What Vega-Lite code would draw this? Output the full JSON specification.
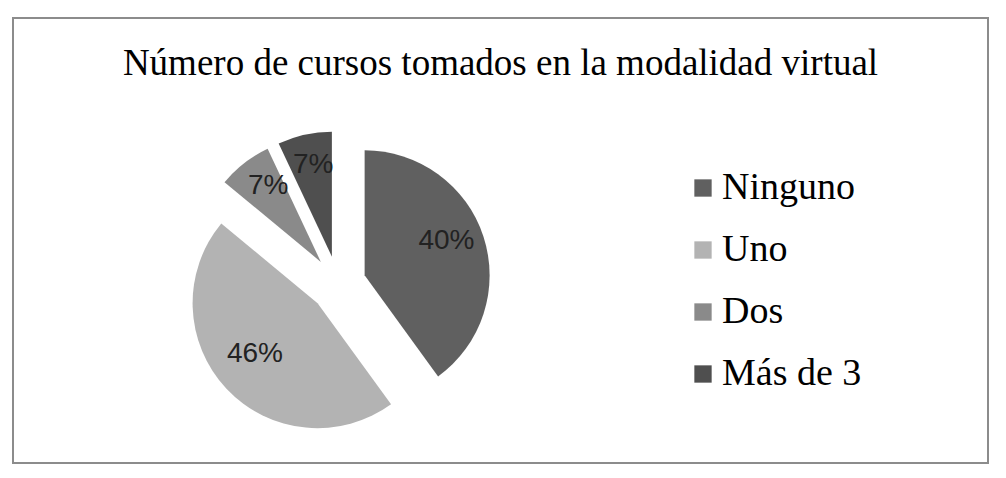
{
  "$schema": "https://vega.github.io/schema/vega-lite/v6.json",
  "width": 1006,
  "height": 478,
  "autosize": {"type": "fit", "contains": "padding"},
  "padding": {"left": 13, "top": 18, "right": 18, "bottom": 15},
  "background": "white",
  "config": {"view": {"stroke": "#8c8c8c", "strokeWidth": 2}},
  "title": {
    "text": "Número de cursos tomados en la modalidad virtual",
    "font": "Liberation Serif",
    "fontSize": 37,
    "fontWeight": "normal",
    "color": "#000000",
    "anchor": "middle",
    "baseline": "alphabetic",
    "offset": -94
  },
  "data": {
    "values": [
      {"categoria": "Ninguno", "porcentaje": 40},
      {"categoria": "Uno", "porcentaje": 46},
      {"categoria": "Dos", "porcentaje": 7},
      {"categoria": "Más de 3", "porcentaje": 7}
    ]
  },
  "transform": [
    {"window": [{"op": "sum", "field": "porcentaje", "as": "fin"}], "frame": [null, 0]},
    {"calculate": "datum.fin - datum.porcentaje", "as": "inicio"},
    {"calculate": "PI * (datum.inicio + datum.fin) / 100", "as": "medio"},
    {"calculate": "28 * sin(datum.medio)", "as": "dx"},
    {"calculate": "28 * cos(datum.medio)", "as": "dy"},
    {"calculate": "datum.dx + 86 * sin(datum.medio)", "as": "lx"},
    {"calculate": "datum.dy + 86 * cos(datum.medio)", "as": "ly"},
    {"calculate": "datum.porcentaje + '%'", "as": "etiqueta"}
  ],
  "layer": [
    {
      "mark": {"type": "arc", "outerRadius": 125, "stroke": null},
      "encoding": {
        "theta": {"field": "inicio", "type": "quantitative", "stack": null, "scale": {"domain": [0, 100]}},
        "theta2": {"field": "fin"},
        "x": {"field": "dx", "type": "quantitative", "scale": {"domain": [-325, 650], "nice": false, "zero": false}, "axis": null},
        "y": {"field": "dy", "type": "quantitative", "scale": {"domain": [-179, 266], "nice": false, "zero": false}, "axis": null},
        "color": {
          "field": "categoria",
          "type": "nominal",
          "scale": {
            "domain": ["Ninguno", "Uno", "Dos", "Más de 3"],
            "range": ["#606060", "#b3b3b3", "#8a8a8a", "#4f4f4f"]
          },
          "legend": {
            "title": null,
            "orient": "none",
            "legendX": 671,
            "legendY": 151,
            "padding": 0,
            "symbolType": "square",
            "symbolSize": 300,
            "symbolStrokeWidth": 0,
            "symbolOpacity": 1,
            "labelFont": "Liberation Serif",
            "labelFontSize": 38,
            "labelColor": "#000000",
            "labelOffset": 0,
            "rowPadding": 24
          }
        }
      }
    },
    {
      "mark": {"type": "text", "font": "Liberation Sans", "fontSize": 28, "color": "#222222", "align": "center", "baseline": "middle", "dy": -8},
      "encoding": {
        "x": {"field": "lx", "type": "quantitative", "axis": null},
        "y": {"field": "ly", "type": "quantitative", "axis": null},
        "text": {"field": "etiqueta", "type": "nominal"}
      }
    }
  ]
}
